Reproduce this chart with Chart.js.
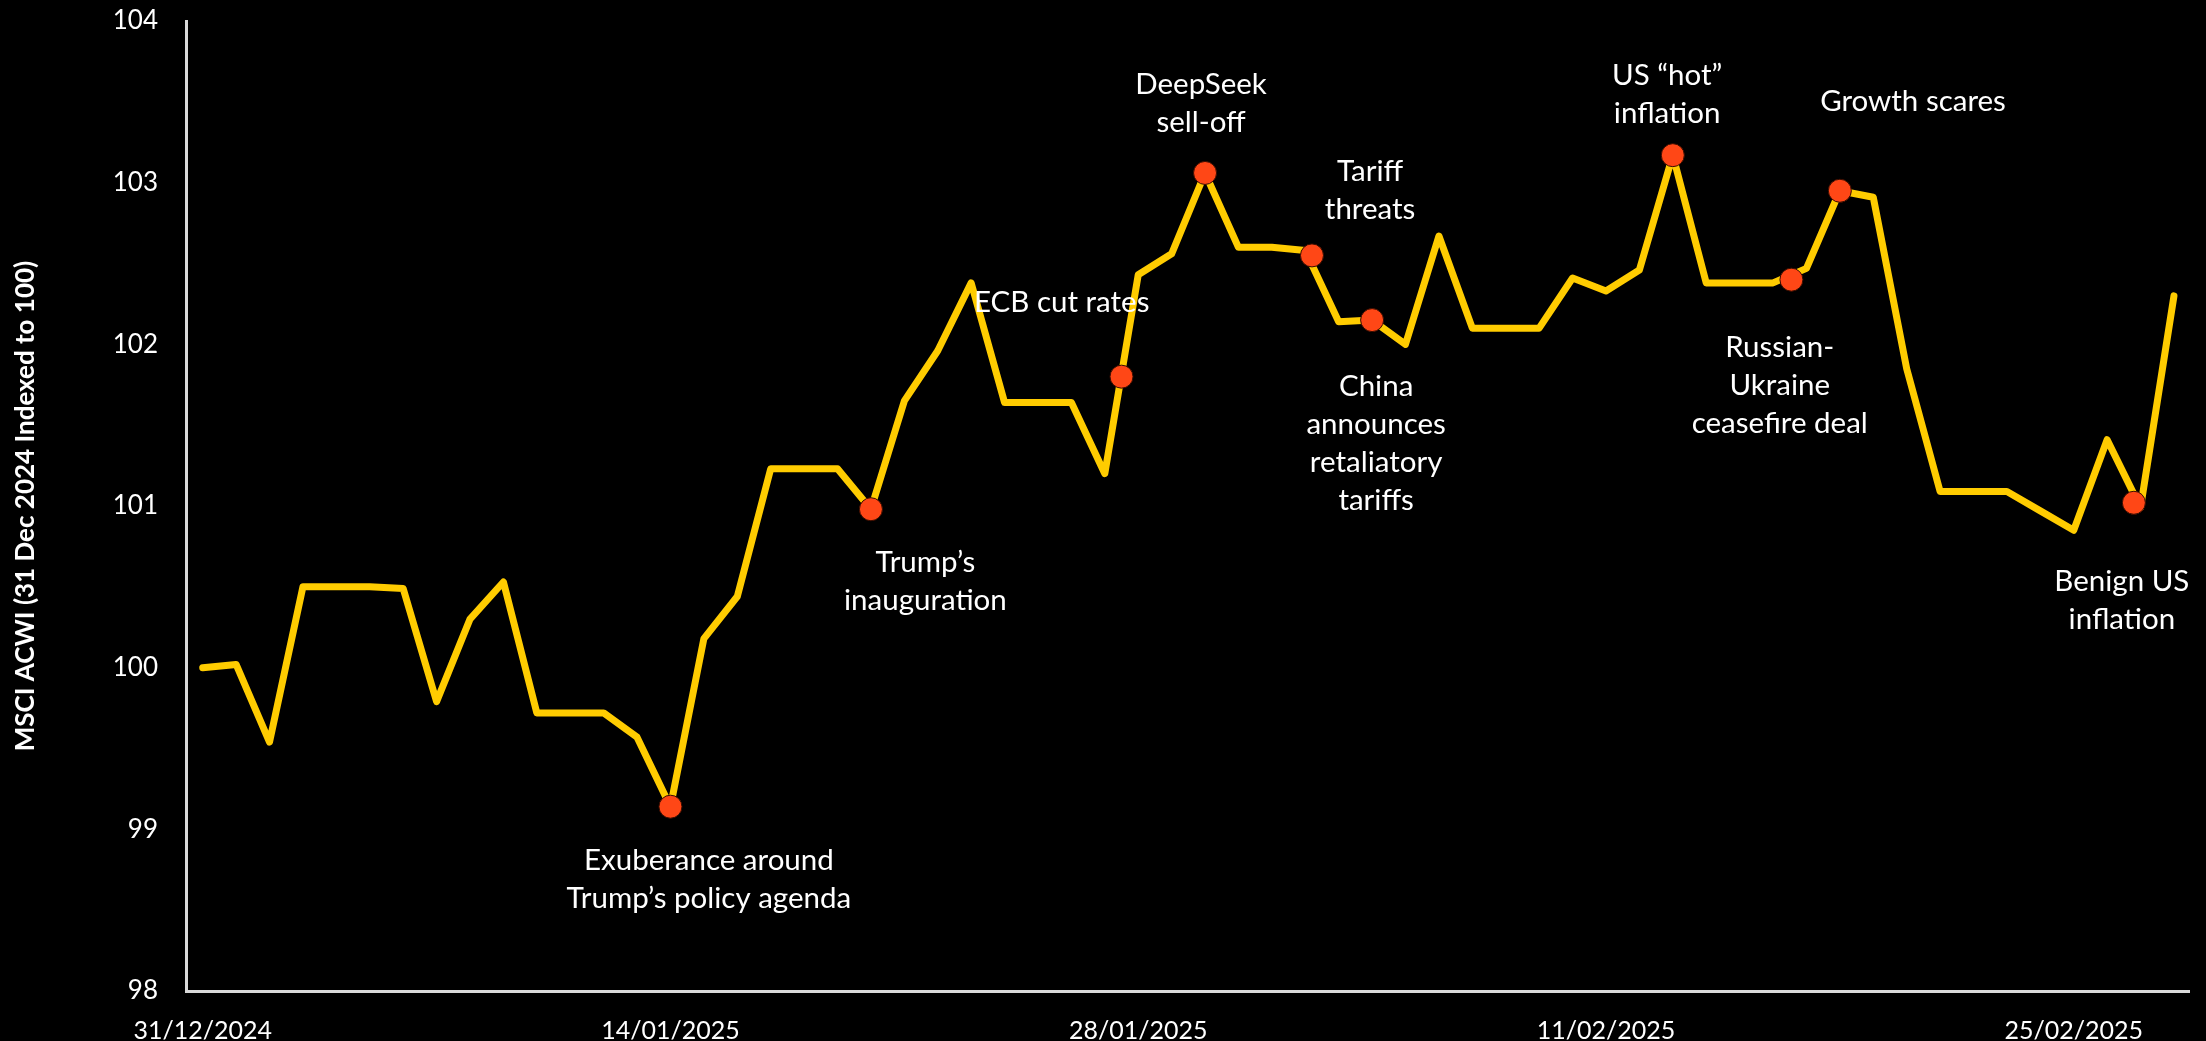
<!DOCTYPE html>
<html>
<head>
<meta charset="utf-8">
<script src="https://cdn.jsdelivr.net/npm/chart.js@4.4.1/dist/chart.umd.min.js"></script>
<style>
    html, body { margin: 0; padding: 0; background: #000; }
    #wrap { width: 2206px; height: 1041px; position: relative; }
</style>
</head>
<body>
<div id="wrap"><canvas id="lineChart"></canvas></div>
<script>
// MSCI ACWI daily, 31 Dec 2024 = 100
const dates = [
    '31/12/2024', '01/01/2025', '02/01/2025', '03/01/2025', '04/01/2025', '05/01/2025', '06/01/2025',
    '07/01/2025', '08/01/2025', '09/01/2025', '10/01/2025', '11/01/2025', '12/01/2025', '13/01/2025',
    '14/01/2025', '15/01/2025', '16/01/2025', '17/01/2025', '18/01/2025', '19/01/2025', '20/01/2025',
    '21/01/2025', '22/01/2025', '23/01/2025', '24/01/2025', '25/01/2025', '26/01/2025', '27/01/2025',
    '28/01/2025', '29/01/2025', '30/01/2025', '31/01/2025', '01/02/2025', '02/02/2025', '03/02/2025',
    '04/02/2025', '05/02/2025', '06/02/2025', '07/02/2025', '08/02/2025', '09/02/2025', '10/02/2025',
    '11/02/2025', '12/02/2025', '13/02/2025', '14/02/2025', '15/02/2025', '16/02/2025', '17/02/2025',
    '18/02/2025', '19/02/2025', '20/02/2025', '21/02/2025', '22/02/2025', '23/02/2025', '24/02/2025',
    '25/02/2025', '26/02/2025', '27/02/2025', '28/02/2025'
];

const acwi = [
    100.00, 100.02, 99.54, 100.50, 100.50, 100.50, 100.49,
    99.79, 100.30, 100.53, 99.72, 99.72, 99.72, 99.57,
    99.14, 100.18, 100.44, 101.23, 101.23, 101.23, 100.98,
    101.65, 101.96, 102.38, 101.64, 101.64, 101.64, 101.20,
    102.43, 102.56, 103.06, 102.60, 102.60, 102.58, 102.14,
    102.15, 102.00, 102.67, 102.10, 102.10, 102.10, 102.41,
    102.33, 102.46, 103.17, 102.38, 102.38, 102.38, 102.47,
    102.95, 102.91, 101.85, 101.09, 101.09, 101.09, 100.97,
    100.85, 101.41, 100.99, 102.30
];

const shownTicks = [0, 14, 28, 42, 56];

// event markers (day index, index level)
const eventX = [14, 20, 27.5, 30, 33.2, 35, 44, 47.55, 49, 57.8];
const eventY = [99.14, 100.98, 101.80, 103.06, 102.55, 102.15, 103.17, 102.40, 102.95, 101.02];

// annotation text, anchored at (day index, level) of the first line
const notes = [
    { lines: ['Exuberance around', 'Trump\u2019s policy agenda'], x: 15.15, y: 98.81 },
    { lines: ['Trump\u2019s', 'inauguration'], x: 21.63, y: 100.65 },
    { lines: ['ECB cut rates'], x: 25.71, y: 102.26 },
    { lines: ['DeepSeek', 'sell-off'], x: 29.88, y: 103.61 },
    { lines: ['Tariff', 'threats'], x: 34.94, y: 103.07 },
    { lines: ['China', 'announces', 'retaliatory', 'tariffs'], x: 35.12, y: 101.74 },
    { lines: ['US \u201Chot\u201D', 'inflation'], x: 43.83, y: 103.66 },
    { lines: ['Growth scares'], x: 51.19, y: 103.50 },
    { lines: ['Russian-', 'Ukraine', 'ceasefire deal'], x: 47.2, y: 101.98 },
    { lines: ['Benign US', 'inflation'], x: 57.44, y: 100.53 }
];

const FONT = 'Lato, "Open Sans", sans-serif';

const notesPlugin = {
    id: 'notes',
    afterDatasetsDraw(chart) {
        const ctx = chart.ctx;
        const xs = chart.scales.x;
        const ys = chart.scales.y;
        ctx.save();
        ctx.fillStyle = '#fff';
        ctx.font = '29.5px ' + FONT;
        ctx.textAlign = 'center';
        ctx.textBaseline = 'middle';
        notes.forEach(n => {
            const px = xs.getPixelForValue(n.x);
            const py = ys.getPixelForValue(n.y);
            n.lines.forEach((t, k) => ctx.fillText(t, px, py + k * 38));
        });
        ctx.restore();
    }
};

const bgPlugin = {
    id: 'bg',
    beforeDraw(chart) {
        const ctx = chart.ctx;
        ctx.save();
        ctx.fillStyle = '#000';
        ctx.fillRect(0, 0, chart.width, chart.height);
        ctx.restore();
    }
};

const ctx = document.getElementById('lineChart').getContext('2d');
const lineChart = new Chart(ctx, {
    type: 'line',
    data: {
        datasets: [
            {
                label: 'Events',
                data: eventX.map((x, i) => ({ x: x, y: eventY[i] })),
                showLine: false,
                pointRadius: 11.5,
                pointBackgroundColor: '#FF4716',
                pointBorderColor: '#3a0d00',
                pointBorderWidth: 1,
                order: 0
            },
            {
                label: 'MSCI ACWI',
                data: acwi.map((v, i) => ({ x: i, y: v })),
                borderColor: '#FFCC00',
                borderWidth: 7,
                borderJoinStyle: 'round',
                borderCapStyle: 'round',
                pointRadius: 0,
                tension: 0,
                order: 1
            }
        ]
    },
    options: {
        responsive: true,
        maintainAspectRatio: false,
        animation: false,
        devicePixelRatio: 1,
        layout: { padding: { top: 21, right: 17, left: 0, bottom: 0 } },
        plugins: {
            legend: { display: false },
            tooltip: { enabled: false }
        },
        scales: {
            x: {
                type: 'linear',
                min: -0.5,
                max: 59.45,
                grid: { display: false },
                border: { display: true, color: '#D9D9D9', width: 3 },
                afterBuildTicks: s => { s.ticks = shownTicks.map(v => ({ value: v })); },
                afterFit: s => { s.height = 50; s.paddingLeft = 0; s.paddingRight = 0; },
                ticks: {
                    autoSkip: false,
                    maxRotation: 0,
                    padding: 17,
                    color: '#fff',
                    font: { family: FONT, size: 25 },
                    callback: v => dates[v]
                }
            },
            y: {
                min: 98,
                max: 104,
                grid: { display: false },
                border: { display: true, color: '#D9D9D9', width: 3 },
                afterFit: s => { s.width = 186; s.paddingTop = 0; s.paddingBottom = 0; },
                ticks: {
                    stepSize: 1,
                    padding: 20,
                    color: '#fff',
                    font: { family: FONT, size: 26 }
                },
                title: {
                    display: true,
                    text: 'MSCI ACWI (31 Dec 2024 Indexed to 100)',
                    color: '#fff',
                    font: { family: FONT, size: 26, weight: 'bold' },
                    padding: { top: 10, bottom: 0 }
                }
            }
        }
    },
    plugins: [bgPlugin, notesPlugin]
});
</script>
</body>
</html>
